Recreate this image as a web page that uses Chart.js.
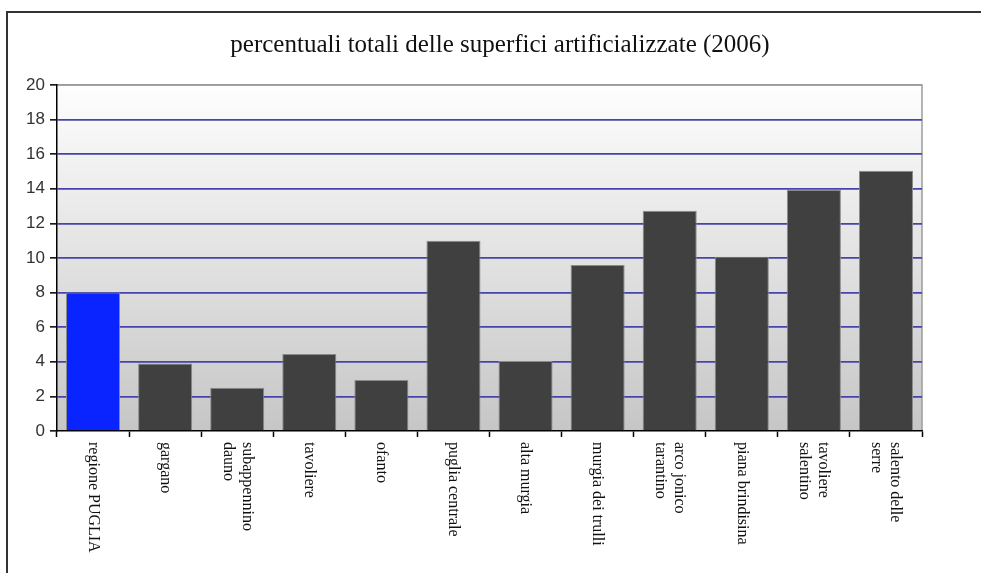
<!DOCTYPE html>
<html>
<head>
<meta charset="utf-8">
<script src="https://cdn.jsdelivr.net/npm/chart.js@4/dist/chart.umd.min.js"></script>
<style>
  body { margin: 0; background: #fff; overflow: hidden; }
  #wrap { position: relative; width: 981px; height: 573px; }
  #frame { position: absolute; left: 6px; top: 11px; width: 2000px; height: 2000px;
           border: 2px solid #333; box-sizing: border-box; }
</style>
</head>
<body>
<div id="wrap">
  <div id="frame"></div>
  <canvas id="chart"></canvas>
</div>
<script>
// data
const categories = [
    'regione PUGLIA', 'gargano', ['subappennino', 'dauno'], 'tavoliere', 'ofanto',
    'puglia centrale', 'alta murgia', 'murgia dei trulli', ['arco jonico', 'tarantino'],
    'piana brindisina', ['tavoliere', 'salentino'], ['salento delle', 'serre']
];
const percentuali = [8.0, 3.9, 2.5, 4.45, 2.95, 11.0, 4.05, 9.6, 12.73, 10.07, 13.93, 15.04];
const yTicks = [0, 2, 4, 6, 8, 10, 12, 14, 16, 18, 20];
const titleText = 'percentuali totali delle superfici artificializzate (2006)';

const barColors = categories.map((c, i) => i === 0 ? '#0a24ff' : '#404040');

// gradient plot background + grey frame on top/right
const plotBackground = {
    id: 'plotBackground',
    beforeDraw(chart) {
        const {ctx, chartArea: a} = chart;
        const g = ctx.createLinearGradient(0, a.top, 0, a.bottom);
        g.addColorStop(0, '#fefefe');
        g.addColorStop(1, '#c6c6c6');
        ctx.save();
        ctx.fillStyle = g;
        ctx.fillRect(a.left, a.top, a.right - a.left, a.bottom - a.top);
        ctx.strokeStyle = '#9c9c9c';
        ctx.lineWidth = 1.5;
        ctx.beginPath();
        ctx.moveTo(a.left, a.top);
        ctx.lineTo(a.right, a.top);
        ctx.lineTo(a.right, a.bottom);
        ctx.stroke();
        ctx.restore();
    }
};

// category labels turned clockwise, read top to bottom
const verticalLabels = {
    id: 'verticalLabels',
    afterDraw(chart) {
        const {ctx, chartArea: a} = chart;
        const xs = chart.scales.x;
        const lh = 19;
        ctx.save();
        ctx.font = '16px "Liberation Serif", serif';
        ctx.fillStyle = '#111';
        ctx.textAlign = 'left';
        ctx.textBaseline = 'middle';
        categories.forEach((lab, i) => {
            const lines = Array.isArray(lab) ? lab : [lab];
            const x = xs.getPixelForValue(i);
            ctx.save();
            ctx.translate(x, a.bottom + 11);
            ctx.rotate(Math.PI / 2);
            lines.forEach((t, k) => {
                ctx.fillText(t, 0, (k - (lines.length - 1) / 2) * lh);
            });
            ctx.restore();
        });
        ctx.restore();
    }
};

const config = {
    type: 'bar',
    data: {
        labels: categories,
        datasets: [{
            label: 'percentuali',
            data: percentuali,
            backgroundColor: barColors,
            borderColor: '#8a8a8a',
            borderWidth: 1,
            barPercentage: 0.75,
            categoryPercentage: 1.0
        }]
    },
    options: {
        responsive: true,
        maintainAspectRatio: false,
        animation: false,
        layout: { padding: { left: 19, right: 0, top: 0, bottom: 0 } },
        plugins: {
            legend: { display: false },
            tooltip: { enabled: false },
            title: {
                display: true,
                text: titleText,
                color: '#111',
                font: { family: '"Liberation Serif", serif', size: 25, weight: 'normal', lineHeight: 1.2 },
                padding: { top: 30, bottom: 25 }
            }
        },
        scales: {
            x: {
                offset: true,
                ticks: { display: false },
                grid: { offset: true, drawOnChartArea: false, drawTicks: true, tickLength: 6, tickColor: '#000', tickWidth: 1.5 },
                border: { color: '#000', width: 1.5 },
                afterFit: s => { s.height = 142; }
            },
            y: {
                min: 0,
                max: 20,
                afterBuildTicks: s => { s.ticks = yTicks.map(v => ({value: v})); },
                ticks: {
                    color: '#333',
                    padding: 5,
                    font: { family: '"Liberation Sans", Arial, sans-serif', size: 17 }
                },
                grid: {
                    color: c => c.tick.value === 0 ? 'rgba(0,0,0,0)' : (c.tick.value === 20 ? '#9c9c9c' : '#4444aa'),
                    lineWidth: 1.7,
                    tickColor: '#000',
                    tickLength: 7,
                    tickWidth: 1.5
                },
                border: { color: '#000', width: 1.5 },
                afterFit: s => { s.width = 38; }
            },
            y2: {
                position: 'right',
                display: true,
                grid: { display: false },
                border: { display: false },
                ticks: { display: false },
                afterFit: s => { s.width = 59; }
            }
        }
    },
    plugins: [plotBackground, verticalLabels]
};

new Chart(document.getElementById('chart'), config);
</script>
</body>
</html>
